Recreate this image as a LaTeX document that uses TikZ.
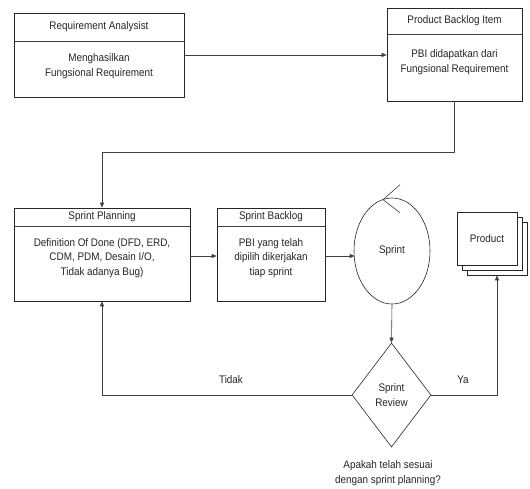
\documentclass[tikz,border=0pt]{standalone}
\usepackage{fontspec}
\setmainfont{Liberation Sans}[FakeStretch=0.9]
\usetikzlibrary{arrows.meta,shapes.geometric,calc}
\begin{document}
\begin{tikzpicture}[x=1pt,y=-1pt,
  every node/.style={font=\fontsize{11}{14.5}\selectfont,text=black!85},
  box/.style={draw=black!85,line width=0.6pt,inner sep=0pt,fill=white},
  txt/.style={align=center,inner sep=0pt},
  conn/.style={draw=black!75,line width=0.6pt,-{Triangle[length=5pt,width=4pt]}},
  plain/.style={draw=black!75,line width=0.6pt}]
\useasboundingbox[fill=white] (0,0) rectangle (530,489);

% Requirement Analysist
\node[box,minimum width=170pt,minimum height=84pt] (RA) at (99,55) {};
\draw[plain] (RA.west |- 0,41) -- (RA.east |- 0,41);
\node[txt] (RAt) at (99,27) {Requirement Analysist};
\node[txt] (RAb) at (99,66) {Menghasilkan\\Fungsional Requirement};

% Product Backlog Item
\node[box,minimum width=135pt,minimum height=93pt] (PBI) at (454.5,54.5) {};
\draw[plain] (PBI.west |- 0,34) -- (PBI.east |- 0,34);
\node[txt] (PBIt) at (454.5,21) {Product Backlog Item};
\node[txt] (PBIb) at (454.5,62) {PBI didapatkan dari\\Fungsional Requirement};

% Sprint Planning
\node[box,minimum width=176pt,minimum height=93pt] (SP) at (102,254.5) {};
\draw[plain] (SP.west |- 0,226) -- (SP.east |- 0,226);
\node[txt] (SPt) at (102,217) {Sprint Planning};
\node[txt] (SPb) at (102,258) {Definition Of Done (DFD, ERD,\\CDM, PDM, Desain I/O,\\Tidak adanya Bug)};

% Sprint Backlog
\node[box,minimum width=108pt,minimum height=93pt] (SB) at (271,254.5) {};
\draw[plain] (SB.west |- 0,226) -- (SB.east |- 0,226);
\node[txt] (SBt) at (271,217) {Sprint Backlog};
\node[txt] (SBb) at (271,258) {PBI yang telah\\dipilih dikerjakan\\tiap sprint};

% Sprint circle
\node[box,ellipse,minimum width=76pt,minimum height=106pt] (S) at (392,251) {Sprint};
\coordinate (cv) at ($(S.north)+(-9,2)$);
\draw[plain] ($(cv)+(17,-15)$) -- (cv) -- ($(cv)+(17,13)$);

% Sprint Review diamond
\node[box,diamond,aspect=0.76,minimum width=79pt,minimum height=104pt,align=center] (D) at (391.5,395) {Sprint\\Review};
\node[txt] (Q) at (388,473) {Apakah telah sesuai\\dengan sprint planning?};

% Product stack
\node[box,minimum width=60pt,minimum height=53pt] (Pback) at (497,248.5) {};
\node[box,minimum width=60pt,minimum height=53pt] (Pmid) at (492,243.5) {};
\node[box,minimum width=60pt,minimum height=53pt] (P) at (487,238.5) {Product};

% connectors
\draw[conn] (RA.east) -- (RA.east -| PBI.west);
\coordinate (bend) at ($(PBI.south)+(0,51)$);
\draw[conn] (PBI.south) -- (bend) -| (SP.north);
\draw[conn] (SP.east |- 0,256) -- (SB.west |- 0,256);
\draw[conn] (SB.east |- 0,256) -- ($(S.west)+(1,5)$);
\draw[conn] (S.south) -- (D.north);
\draw[conn] (D.west) -| (SP.south);
\draw[conn] (D.east) -| (Pback.south);

\node[txt] (Tidak) at (231,380) {Tidak};
\node[txt] (Ya) at (463,380) {Ya};
\end{tikzpicture}
\end{document}
